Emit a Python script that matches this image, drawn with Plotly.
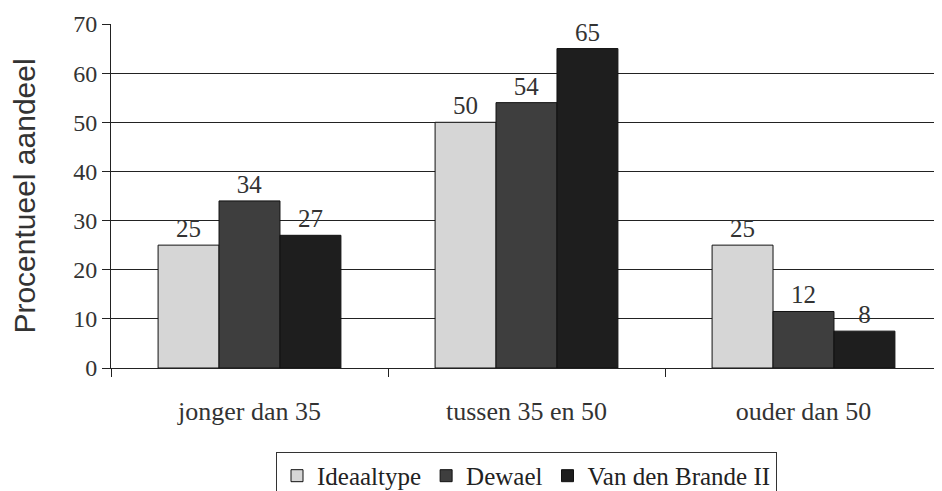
import plotly.graph_objects as go

categories = ["jonger dan 35", "tussen 35 en 50", "ouder dan 50"]
series_names = ["Ideaaltype", "Dewael", "Van den Brande II"]
ideaaltype = [25, 50, 25]
dewael = [34, 54, 11.5]
van_den_brande = [27, 65, 7.5]
colors = ["#d6d6d6", "#3e3e3e", "#1e1e1e"]

fig = go.Figure()
for name, vals, col in zip(series_names, [ideaaltype, dewael, van_den_brande], colors):
    fig.add_trace(go.Bar(
        x=categories, y=vals, name=name,
        marker=dict(color=col, line=dict(color="#111", width=1)),
        text=vals, texttemplate="%{y:.0f}", textposition="outside",
        textfont=dict(family="Liberation Serif", size=25, color="#333"),
        cliponaxis=False,
    ))

# page body has an 8px default margin, so the figure is sized to fit inside it
fig.update_layout(
    width=934, height=483,
    margin=dict(l=103, r=0, t=16, b=123, autoexpand=False),
    paper_bgcolor="white", plot_bgcolor="white",
    barmode="group", bargap=0.34, bargroupgap=0,
    font=dict(family="Liberation Serif", size=25, color="#333"),
    showlegend=True,
    legend=dict(orientation="h", x=0.5, xanchor="center", y=-0.244, yanchor="top",
                bordercolor="#333", borderwidth=1, bgcolor="white",
                font=dict(family="Liberation Serif", size=25, color="#222"),
                itemwidth=30, tracegroupgap=0),
)
fig.update_yaxes(
    range=[0, 70], dtick=10, showgrid=True, gridcolor="#222", gridwidth=1,
    showline=True, linecolor="#222", linewidth=1, ticks="outside", ticklen=8,
    tickcolor="#222", zeroline=False, automargin=False,
    tickfont=dict(family="Liberation Serif", size=24, color="#333"),
    title=dict(text="Procentueel aandeel", font=dict(family="Liberation Sans", size=30, color="#333"), standoff=38),
)
fig.update_xaxes(
    showline=True, linecolor="#222", linewidth=1, ticks="outside", ticklen=8,
    tickcolor="#222", tickson="boundaries", automargin=False,
    tickfont=dict(family="Liberation Serif", size=26, color="#333"),
    ticklabelstandoff=20,
)
fig.write_html("out.html")
